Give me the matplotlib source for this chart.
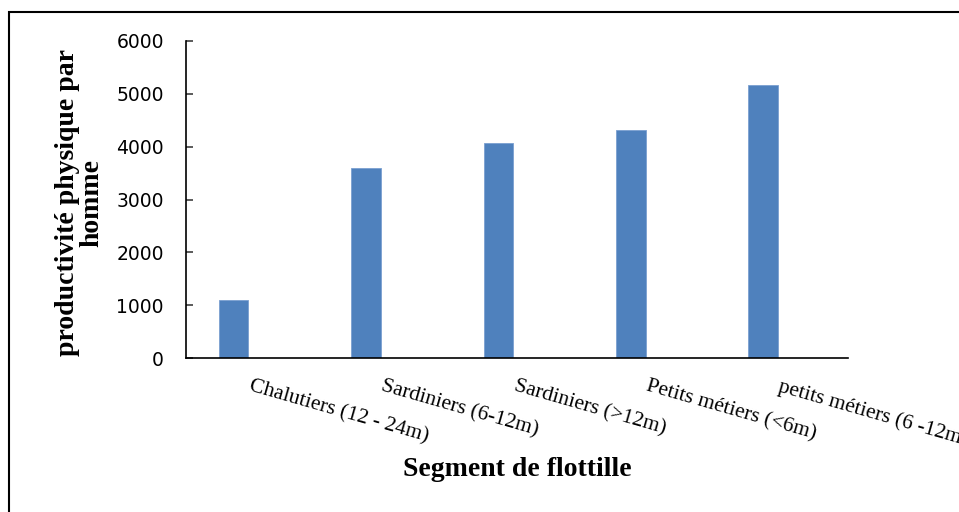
import matplotlib.pyplot as plt
from matplotlib.patches import Rectangle

# Data
segments = ['Chalutiers (12 - 24m)', 'Sardiniers (6-12m)', 'Sardiniers (>12m)',
            'Petits métiers (<6m)', 'petits métiers (6 -12m)']
productivity = [1090, 3590, 4075, 4315, 5165]
yticks = [0, 1000, 2000, 3000, 4000, 5000, 6000]

fig = plt.figure(figsize=(9.59, 5.12), dpi=100)
ax = fig.add_axes([186 / 959, 1 - 358 / 512, (848 - 186) / 959, (358 - 41) / 512])

# bars sit left of the category centre (second, empty series in the original)
x = list(range(len(segments)))
ax.bar([i - 0.14 for i in x], productivity, width=0.224, color='#4F81BD',
       edgecolor='#7A9FD0', linewidth=0.6)

ax.set_xlim(-0.5, len(segments) - 0.5)
ax.set_ylim(0, 6000)
ax.set_yticks(yticks)
ax.set_yticklabels([str(v) for v in yticks], fontsize=13.5, family='DejaVu Sans')
ax.tick_params(axis='y', direction='in', length=5, width=1.2, color='#404040', pad=16)

# last label runs off the right edge, as in the original
ax.set_xticks(x)
ax.set_xticklabels(segments, rotation=-16, ha='left', va='top', rotation_mode='anchor',
                   fontsize=15.5, family='Liberation Serif')
ax.tick_params(axis='x', length=0, pad=14)

for side in ['top', 'right']:
    ax.spines[side].set_visible(False)
for side in ['left', 'bottom']:
    ax.spines[side].set_linewidth(1.2)
    ax.spines[side].set_color('black')

fig.text(80 / 959, 1 - 203 / 512, 'productivité physique par\nhomme', rotation=90,
         ha='center', va='center', fontsize=20, fontweight='bold',
         family='Liberation Serif', linespacing=0.97)
fig.text(517 / 959, 1 - 470 / 512, 'Segment de flottille', ha='center', va='center',
         fontsize=20, fontweight='bold', family='Liberation Serif')

# outer chart border (runs off the right and bottom edges)
fig.patches.append(Rectangle((9 / 959, -0.1), 1.2, 1 - 12 / 512 + 0.1,
                             transform=fig.transFigure, fill=False,
                             edgecolor='black', linewidth=1.5))

fig.savefig('out.png', dpi=100)
